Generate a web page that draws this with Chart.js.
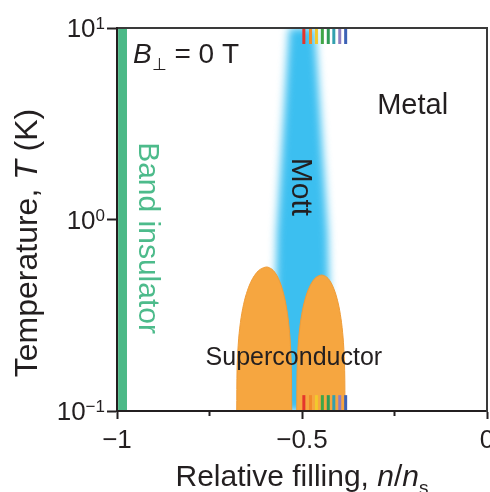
<!DOCTYPE html>
<html>
<head>
<meta charset="utf-8">
<script src="https://cdn.jsdelivr.net/npm/chart.js@4.4.1/dist/chart.umd.min.js"></script>
<style>
  html, body { margin: 0; padding: 0; background: #fff; }
</style>
</head>
<body>
<canvas id="grafico" width="490" height="492"></canvas>
<script>
// ===== DADOS =====
const xTicks = [-1, -0.75, -0.5, -0.25, 0];
const xTickLabels = ['\u22121', '', '\u22120.5', '', '0'];
const yTicks = [0.1, 1, 10];
const yTickExp = ['\u22121', '0', '1'];

// faixa do isolante de banda
const bandX = [-0.997, -0.973];
const bandT = [10, 10];

// região de Mott (contorno fechado)
const mottX = [-0.535, -0.568, -0.578, -0.420, -0.430, -0.465];
const mottT = [10, 0.85, 0.1, 0.1, 0.85, 10];

// domos supercondutores
const domeLeftX = [-0.6765, -0.6754, -0.6712, -0.6645, -0.6552, -0.6443, -0.6335, -0.6229, -0.6125, -0.5954,
                   -0.5812, -0.5725, -0.5636, -0.5547, -0.5456, -0.5378, -0.5322, -0.5288, -0.5278];
const domeLeftT = [0.1, 0.168, 0.238, 0.308, 0.379, 0.443, 0.492, 0.527, 0.550, 0.565,
                   0.550, 0.527, 0.492, 0.443, 0.379, 0.308, 0.238, 0.168, 0.1];
const domeRightX = [-0.5143, -0.5134, -0.5100, -0.5043, -0.4966, -0.4875, -0.4785, -0.4697, -0.4610, -0.4468,
                    -0.4335, -0.4254, -0.4171, -0.4088, -0.4003, -0.3931, -0.3879, -0.3847, -0.3838];
const domeRightT = [0.1, 0.163, 0.227, 0.289, 0.352, 0.408, 0.450, 0.481, 0.501, 0.513,
                    0.501, 0.481, 0.450, 0.408, 0.352, 0.289, 0.227, 0.163, 0.1];

// marcas coloridas (topo e base)
const markX = [-0.495, -0.477, -0.461, -0.445, -0.429, -0.414, -0.398, -0.382];
const markColors = ['#e5352c', '#f18a2a', '#f2c92c', '#3fa647', '#2f9b57', '#33a0ae', '#8f7fc2', '#3d62b5'];
const markTopT = [10, 8.25];
const markBottomT = [0.1, 0.121];

// rótulos das fases
const phaseTexts = ['Band insulator', 'Mott', 'Metal', 'Superconductor'];
const phaseX = [-0.919, -0.505, -0.201, -0.522];
const phaseT = [0.80, 1.48, 3.91, 0.19];

// ===== MONTAGEM DOS DATASETS =====
const pontos = (xs, ts) => xs.map((x, i) => ({ x: x, y: ts[i] }));

const datasets = [];

datasets.push({
    data: pontos(mottX, mottT),
    showLine: true, pointRadius: 0, borderWidth: 0,
    backgroundColor: '#3cbff0', fill: 'shape', order: 10
});

datasets.push({
    data: pontos(bandX, bandT),
    showLine: true, pointRadius: 0, borderWidth: 0,
    backgroundColor: '#4cb987', fill: 'start', order: 8
});

[[domeLeftX, domeLeftT], [domeRightX, domeRightT]].forEach(([xs, ts]) => {
    datasets.push({
        data: pontos(xs, ts),
        showLine: true, pointRadius: 0, borderWidth: 1, tension: 0.3,
        borderColor: '#ef9c38', backgroundColor: '#f6a640', fill: 'start', order: 5
    });
});

markX.forEach((x, i) => {
    [markTopT, markBottomT].forEach(ts => {
        datasets.push({
            data: ts.map(t => ({ x: x, y: t })),
            showLine: true, pointRadius: 0, borderWidth: 3,
            borderColor: markColors[i], fill: false, order: 1
        });
    });
});
datasets.forEach(d => { d.xAxisID = 'x'; d.yAxisID = 'y'; });

// ===== PLUGINS =====
const mottIndex = 0;
const desfoque = {
    id: 'desfoque',
    beforeDatasetsDraw(chart) {
        chart.ctx.save();
        chart.ctx.filter = 'blur(4px)';
    },
    afterDatasetDraw(chart, args) {
        if (args.index === mottIndex) chart.ctx.restore();
    }
};

const FONTE = '"Liberation Sans", Arial, Helvetica, sans-serif';
const COR_TEXTO = '#231f20';

function desenharTrechos(ctx, trechos, x, y, align) {
    let total = 0;
    trechos.forEach(t => { ctx.font = t.font; total += ctx.measureText(t.t).width; });
    let cx = align === 'center' ? x - total / 2 : (align === 'right' ? x - total : x);
    ctx.textAlign = 'left';
    ctx.textBaseline = 'alphabetic';
    trechos.forEach(t => {
        ctx.font = t.font;
        ctx.fillStyle = t.color || COR_TEXTO;
        ctx.fillText(t.t, cx, y + (t.dy || 0));
        cx += ctx.measureText(t.t).width;
    });
}

const textos = {
    id: 'textos',
    afterDraw(chart) {
        const { ctx, scales: { x, y } } = chart;
        ctx.save();

        // rótulos do eixo y com expoente
        yTicks.forEach((v, i) => {
            const py = y.getPixelForValue(v);
            desenharTrechos(ctx, [
                { t: '10', font: '26px ' + FONTE },
                { t: yTickExp[i], font: '17px ' + FONTE, dy: -8 }
            ], 105, py + 9, 'right');
        });

        // título do eixo y
        ctx.save();
        ctx.translate(37, 243);
        ctx.rotate(-Math.PI / 2);
        desenharTrechos(ctx, [
            { t: 'Temperature, ', font: '32px ' + FONTE },
            { t: 'T', font: 'italic 32px ' + FONTE },
            { t: ' (K)', font: '32px ' + FONTE }
        ], 0, 0, 'center');
        ctx.restore();

        // título do eixo x
        desenharTrechos(ctx, [
            { t: 'Relative filling, ', font: '30px ' + FONTE },
            { t: 'n', font: 'italic 30px ' + FONTE },
            { t: '/', font: '30px ' + FONTE },
            { t: 'n', font: 'italic 30px ' + FONTE },
            { t: 's', font: '19px ' + FONTE, dy: 8 }
        ], 302, 486, 'center');

        // B perpendicular
        desenharTrechos(ctx, [
            { t: 'B', font: 'italic 28px ' + FONTE },
            { t: '\u22a5', font: '17px ' + FONTE, dy: 7 },
            { t: ' = 0 T', font: '28px ' + FONTE }
        ], 133, 63, 'left');

        // rótulos das fases
        phaseTexts.forEach((txt, i) => {
            const px = x.getPixelForValue(phaseX[i]);
            const py = y.getPixelForValue(phaseT[i]);
            ctx.save();
            ctx.translate(px, py);
            if (txt === 'Band insulator' || txt === 'Mott') ctx.rotate(Math.PI / 2);
            ctx.textAlign = 'center';
            ctx.textBaseline = 'middle';
            const tam = txt === 'Superconductor' ? 25 : (txt === 'Metal' ? 29 : 30);
            ctx.font = tam + 'px ' + FONTE;
            ctx.fillStyle = txt === 'Band insulator' ? '#4dbb8b' : COR_TEXTO;
            ctx.fillText(txt, 0, 0);
            ctx.restore();
        });

        ctx.restore();
    }
};

// ===== GRÁFICO =====
new Chart(document.getElementById('grafico'), {
    type: 'scatter',
    data: { datasets: datasets },
    options: {
        responsive: false,
        animation: false,
        events: [],
        layout: { padding: 0 },
        plugins: { legend: { display: false }, tooltip: { enabled: false } },
        scales: {
            x: {
                type: 'linear', position: 'bottom', min: -1, max: 0,
                afterBuildTicks: s => { s.ticks = xTicks.map(v => ({ value: v })); },
                ticks: {
                    autoSkip: false, maxRotation: 0, padding: 6,
                    color: COR_TEXTO, font: { family: FONTE, size: 26 },
                    callback: (v, i) => xTickLabels[i]
                },
                grid: {
                    drawOnChartArea: false, tickLength: 8, tickWidth: 2, tickColor: '#231f20',
                    tickBorderDash: c => (xTickLabels[c.index] ? [] : [4, 20])
                },
                border: { color: '#231f20', width: 2, z: 1 },
                afterFit: s => { s.height = 81; s.paddingLeft = 0; s.paddingRight = 0; }
            },
            xTop: {
                type: 'linear', position: 'top', min: -1, max: 0,
                ticks: { display: false },
                grid: { drawOnChartArea: false, drawTicks: false },
                border: { color: '#3a3a3a', width: 2, z: 1 },
                afterFit: s => { s.height = 28; s.paddingLeft = 0; s.paddingRight = 0; }
            },
            y: {
                type: 'logarithmic', position: 'left', min: 0.1, max: 10,
                afterBuildTicks: s => { s.ticks = yTicks.map(v => ({ value: v })); },
                ticks: { display: false },
                grid: { drawOnChartArea: false, tickLength: 10, tickWidth: 2, tickColor: '#231f20' },
                border: { color: '#231f20', width: 2, z: 1 },
                afterFit: s => { s.width = 117; s.paddingTop = 0; s.paddingBottom = 0; }
            },
            yRight: {
                type: 'logarithmic', position: 'right', min: 0.1, max: 10,
                ticks: { display: false },
                grid: { drawOnChartArea: false, drawTicks: false },
                border: { color: '#3a3a3a', width: 2, z: 1 },
                afterFit: s => { s.width = 3; s.paddingTop = 0; s.paddingBottom = 0; }
            }
        }
    },
    plugins: [desfoque, textos]
});
</script>
</body>
</html>
